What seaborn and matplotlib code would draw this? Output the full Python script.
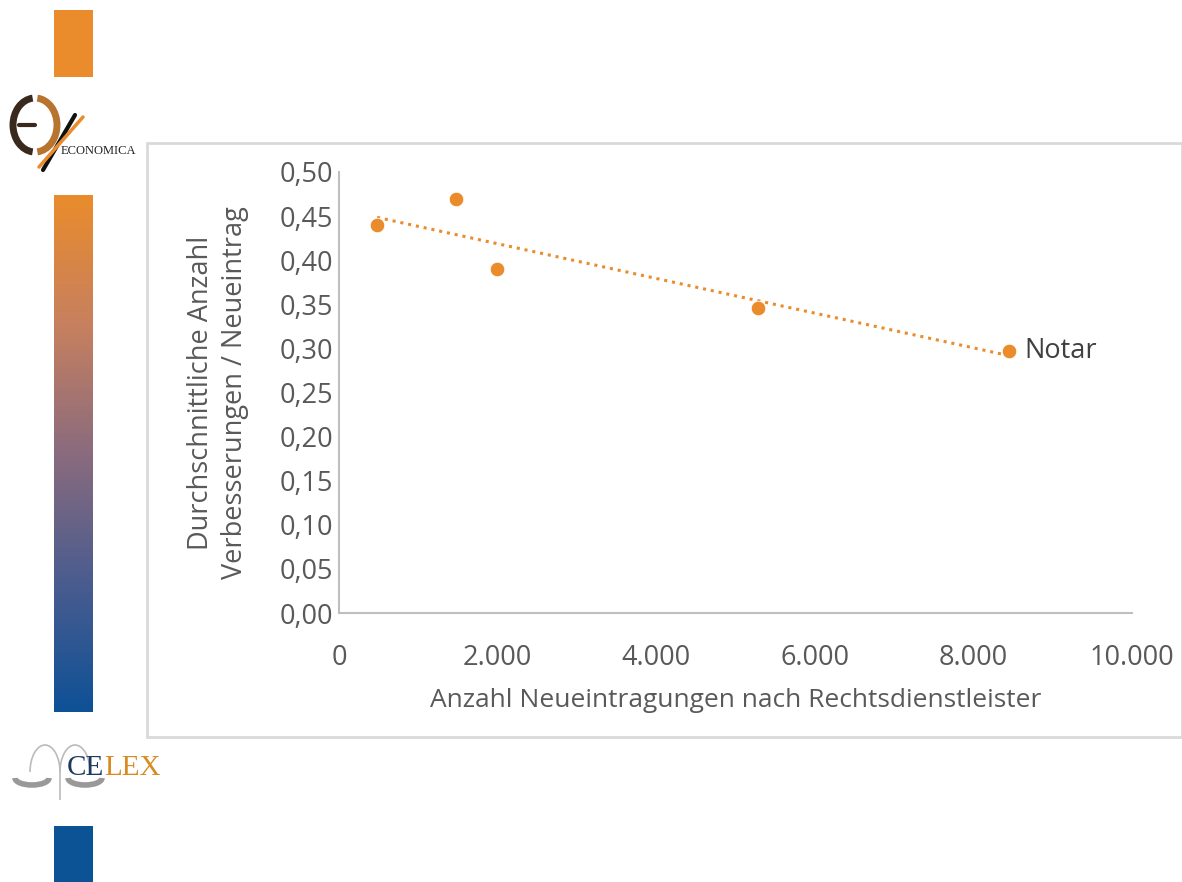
import numpy as np
import pandas as pd
import seaborn as sns
import matplotlib
matplotlib.use("Agg")
from matplotlib import pyplot as plt
from matplotlib.patches import Rectangle, Arc
from matplotlib.ticker import FuncFormatter, MultipleLocator
from matplotlib.colors import LinearSegmentedColormap

# data
neueintragungen = [480, 1480, 1995, 5290, 8450]
verbesserungen = [0.440, 0.469, 0.390, 0.346, 0.297]
point_labels = ["", "", "", "", "Notar"]

ORANGE = "#EA8C2C"
BLUE = "#0B5394"
GREY_TXT = "#595959"

sns.set_theme(style="white")
plt.rcParams["font.family"] = ["Open Sans", "DejaVu Sans"]

W, H = 1182, 882
fig = plt.figure(figsize=(W / 100, H / 100), dpi=100)


def fx(px):
    return px / W


def fy(py):
    return 1 - py / H


# slide decorations on the left
fig.patches.append(Rectangle((fx(54), fy(77)), fx(39), (77 - 10) / H,
                             transform=fig.transFigure, color=ORANGE, lw=0))
fig.patches.append(Rectangle((fx(54), fy(882)), fx(39), (882 - 826) / H,
                             transform=fig.transFigure, color=BLUE, lw=0))
grad_ax = fig.add_axes([fx(54), fy(712), fx(39), (712 - 195) / H])
cmap = LinearSegmentedColormap.from_list(
    "bar", [ORANGE, "#C7805F", "#8A6B7E", "#4A5C8F", "#0E5196"])
grad_ax.imshow(np.linspace(0, 1, 256).reshape(-1, 1), aspect="auto", cmap=cmap)
grad_ax.axis("off")

# ECONOMICA logo (rough)
logo_ax = fig.add_axes([fx(5), fy(175), fx(140), (175 - 90) / H])
logo_ax.set_xlim(0, 140)
logo_ax.set_ylim(0, 85)
logo_ax.axis("off")
logo_ax.add_patch(Arc((30, 50), 44, 54, theta1=95, theta2=265, lw=5, color="#3A2A1E"))
logo_ax.add_patch(Arc((30, 50), 44, 54, theta1=-85, theta2=85, lw=5, color="#B7742F"))
logo_ax.plot([14, 30], [50, 50], color="#3A2A1E", lw=3)
logo_ax.plot([38, 70], [5, 60], color="#111111", lw=3)
logo_ax.plot([34, 78], [8, 58], color=ORANGE, lw=2.5)
logo_ax.text(56, 24, "ECONOMICA", family="Liberation Serif", fontsize=9,
             color="#222222", va="center", ha="left")

# CELEX logo (rough)
celex_ax = fig.add_axes([fx(10), fy(800), fx(150), (800 - 740) / H])
celex_ax.set_xlim(0, 150)
celex_ax.set_ylim(0, 60)
celex_ax.axis("off")
celex_ax.add_patch(Arc((35, 28), 30, 54, theta1=0, theta2=180, lw=1.2, color="#BBBBBB"))
celex_ax.add_patch(Arc((65, 28), 30, 54, theta1=0, theta2=180, lw=1.2, color="#BBBBBB"))
celex_ax.plot([50, 50], [0, 28], color="#BBBBBB", lw=1.2)
celex_ax.add_patch(Arc((22, 22), 34, 14, theta1=180, theta2=360, lw=4, color="#999999"))
celex_ax.add_patch(Arc((75, 22), 34, 14, theta1=180, theta2=360, lw=4, color="#999999"))
ce = celex_ax.text(57, 25, "CE", family="Liberation Serif", fontsize=21, color="#1F3A60",
                   va="baseline", ha="left")
celex_ax.annotate("LEX", xy=(1, 0), xycoords=ce, family="Liberation Serif",
                  fontsize=21, color="#D98B22", va="bottom", ha="left")

# chart frame
fig.patches.append(Rectangle((fx(147), fy(737)), fx(1182 - 147), (737 - 143) / H,
                             transform=fig.transFigure, fill=False,
                             edgecolor="#D9D9D9", lw=2))

ax = fig.add_axes([fx(339), fy(613), fx(1132 - 339), (613 - 172) / H])
df = pd.DataFrame({"x": neueintragungen, "y": verbesserungen})

sns.regplot(data=df, x="x", y="y", ax=ax, scatter=False, ci=None, truncate=True,
            line_kws=dict(color=ORANGE, ls=(0, (1, 1.6)), lw=2.2))
sns.scatterplot(data=df, x="x", y="y", ax=ax, color=ORANGE, s=110,
                edgecolor="white", linewidth=0.6, zorder=3)

for xv, yv, lab in zip(neueintragungen, verbesserungen, point_labels):
    if lab:
        ax.annotate(lab, (xv, yv), xytext=(11, 0), textcoords="offset points",
                    va="center", ha="left", fontsize=19.5, color="#404040")

ax.set_xlim(0, 10000)
ax.set_ylim(0, 0.5)
ax.xaxis.set_major_locator(MultipleLocator(2000))
ax.yaxis.set_major_locator(MultipleLocator(0.05))
ax.xaxis.set_major_formatter(FuncFormatter(lambda v, p: f"{int(v):,}".replace(",", ".")))
ax.yaxis.set_major_formatter(FuncFormatter(lambda v, p: f"{v:.2f}".replace(".", ",")))
ax.tick_params(axis="both", labelsize=19.5, colors=GREY_TXT, length=0)
ax.tick_params(axis="x", pad=22)
ax.tick_params(axis="y", pad=4)

for side in ["top", "right"]:
    ax.spines[side].set_visible(False)
for side in ["left", "bottom"]:
    ax.spines[side].set_color("#BFBFBF")
    ax.spines[side].set_linewidth(1.5)

ax.set_xlabel("Anzahl Neueintragungen nach Rechtsdienstleister",
              fontsize=19, color=GREY_TXT, labelpad=12)
ax.set_ylabel("Durchschnittliche Anzahl\nVerbesserungen / Neueintrag",
              fontsize=19.5, color=GREY_TXT, labelpad=22, linespacing=1.3)

fig.savefig("out.png", dpi=100, facecolor="white")
